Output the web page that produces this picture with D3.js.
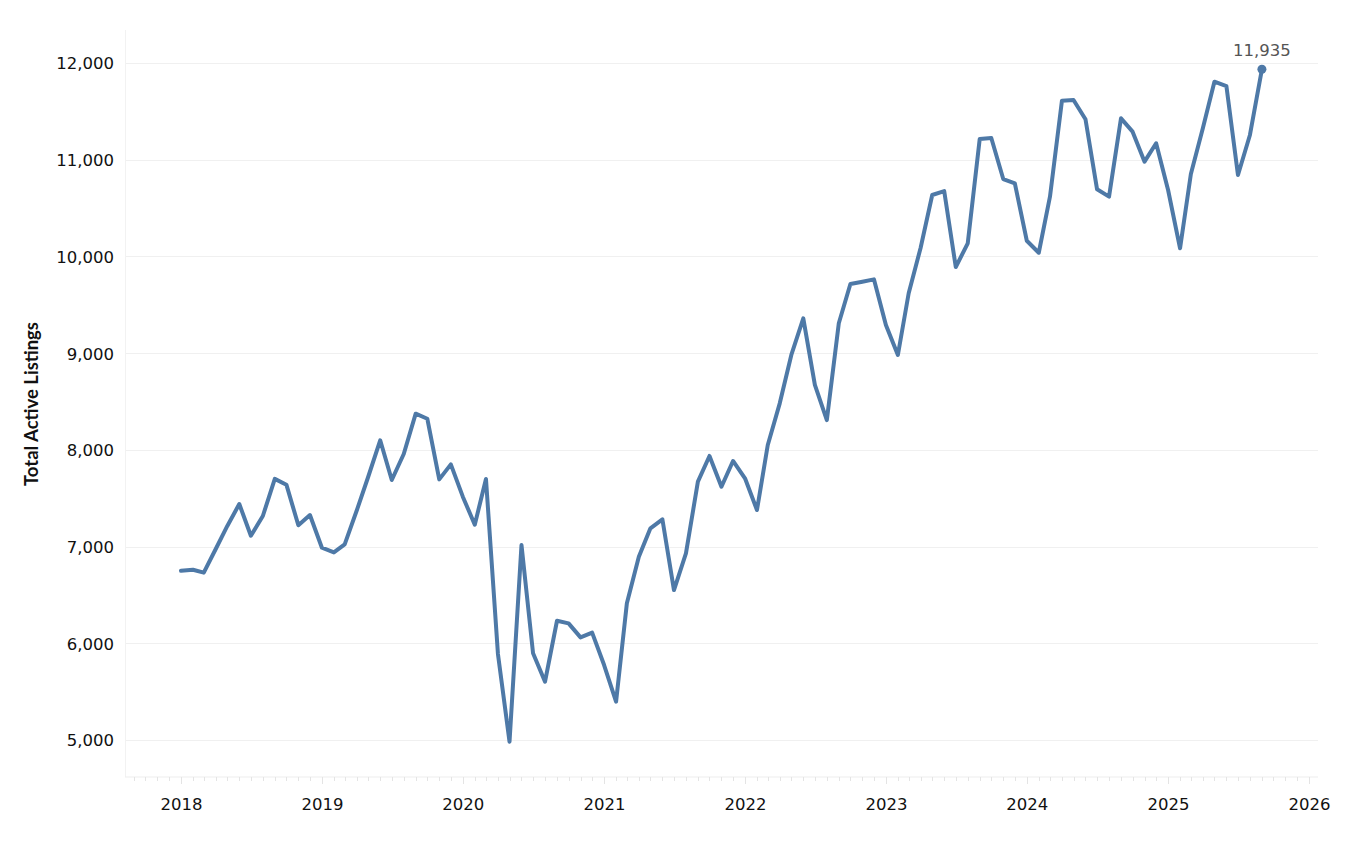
<!DOCTYPE html>
<html><head><meta charset="utf-8">
<script src="https://cdn.jsdelivr.net/npm/d3@7"></script>
<style>body{margin:0;background:#fff}svg{display:block}</style>
</head><body><svg id="c" width="1352" height="848"></svg>
<script>
const startMonth = "2018-01";
const values = [
 6750,6760,6730,6975,7213,7440,7112,7316,7700,7640,7220,7326,
 6988,6940,7023,7370,7722,8099,7688,7957,8374,8322,7695,7850,
 7516,7226,7699,5890,4982,7016,5896,5603,6233,6206,6061,6110,
 5775,5396,6413,6895,7189,7282,6550,6930,7671,7937,7619,7885,
 7706,7378,8050,8481,8981,9360,8671,8308,9309,9715,9738,9763,
 9291,8981,9619,10090,10635,10676,9890,10136,11214,11224,10800,10756,
 10162,10038,10618,11610,11617,11418,10694,10618,11428,11290,10980,11170,
 10687,10084,10852,11325,11807,11762,10842,11256,11935
];
const yTicks = [5000,6000,7000,8000,9000,10000,11000,12000];
const yearTicks = [2018,2019,2020,2021,2022,2023,2024,2025,2026];
const yTitle = "Total Active Listings";
const lastLabel = "11,935";

(function(){
const parse = d3.timeParse("%Y-%m");
const t0 = parse(startMonth);
const data = values.map((v,i)=>({date:d3.timeMonth.offset(t0,i), value:v}));

const svg = d3.select("#c");
const pL=125, pR=1318, pT=30, pB=777;
const x = d3.scaleTime()
  .domain([new Date(yearTicks[0],0,1), new Date(yearTicks[yearTicks.length-1],0,1)])
  .range([181, 1309]);
const y = d3.scaleLinear().domain([5000,12000]).range([740,63]);

const font = "'DejaVu Sans', sans-serif";
const tfont = "Lato, sans-serif";

svg.append("g").selectAll("line").data(yTicks).join("line")
  .attr("x1",pL).attr("x2",pR)
  .attr("y1",d=>Math.round(y(d))+0.5).attr("y2",d=>Math.round(y(d))+0.5)
  .attr("stroke","#f0f0f0").attr("stroke-width",1.2);
svg.append("line").attr("x1",pL+0.5).attr("x2",pL+0.5).attr("y1",pT).attr("y2",pB)
  .attr("stroke","#f2f2f2");
svg.append("line").attr("x1",pL).attr("x2",pR).attr("y1",pB).attr("y2",pB)
  .attr("stroke","#eeeeee").attr("stroke-width",1.2);

const months = d3.timeMonth.range(d3.timeMonth.ceil(x.invert(pL)), x.invert(pR));
svg.append("g").selectAll("line").data(months).join("line")
  .attr("x1",d=>Math.round(x(d))+0.5).attr("x2",d=>Math.round(x(d))+0.5)
  .attr("y1",pB).attr("y2",d=>d.getMonth()===0?pB+7:pB+4)
  .attr("stroke","#e4e4e4");

const yAxis = d3.axisLeft(y).tickValues(yTicks).tickFormat(d3.format(",")).tickSize(0).tickPadding(0);
const ya = svg.append("g").attr("transform","translate(114,0)").call(yAxis);
ya.select(".domain").remove();
ya.selectAll("text").attr("font-family",font).attr("font-size",16.5).attr("fill","#111").attr("dy","0.36em");

const xAxis = d3.axisBottom(x).tickValues(yearTicks.map(yr=>new Date(yr,0,1))).tickFormat(d3.timeFormat("%Y")).tickSize(0).tickPadding(0);
const xa = svg.append("g").attr("transform",`translate(0,${pB})`).call(xAxis);
xa.select(".domain").remove();
xa.selectAll("text").attr("font-family",font).attr("font-size",16.5).attr("fill","#111").attr("dy","0").attr("y",33);

svg.append("text").attr("transform","translate(38,404) rotate(-90)").attr("text-anchor","middle")
  .attr("font-family",tfont).attr("font-weight","bold").attr("font-size",18.5).attr("fill","#111").text(yTitle);

const line = d3.line().x(d=>x(d.date)).y(d=>y(d.value));
svg.append("path").datum(data).attr("d",line).attr("fill","none")
  .attr("stroke","#4e79a7").attr("stroke-width",4).attr("stroke-linejoin","round").attr("stroke-linecap","round");

const last = data[data.length-1];
svg.append("circle").attr("cx",x(last.date)).attr("cy",y(last.value)).attr("r",4.5).attr("fill","#4e79a7");
svg.append("text").attr("x",x(last.date)).attr("y",y(last.value)-13).attr("text-anchor","middle")
  .attr("font-family",font).attr("font-size",16.5).attr("fill","#555").text(lastLabel);
})();
</script></body></html>
